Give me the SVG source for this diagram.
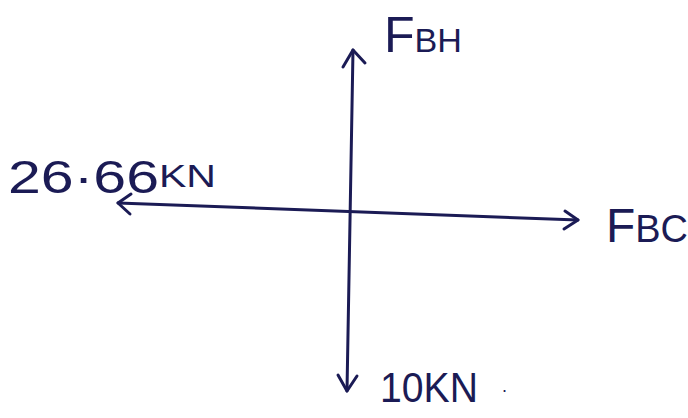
<svg xmlns="http://www.w3.org/2000/svg" width="688" height="418" viewBox="0 0 688 418">
<style>
.ln{stroke:#1b1b55;stroke-width:3;fill:none;stroke-linecap:round;stroke-linejoin:round}
.t{font-family:"Liberation Sans",Arial,sans-serif;fill:#1b1b55}
</style>
<rect width="688" height="418" fill="#ffffff"/>
<g id="connectors">
<path class="ln" d="M353,50 L347,391"/>
<path class="ln" d="M343,67 L353,50 L365,63"/>
<path class="ln" d="M338,375 L347,391 L357,376"/>
<path class="ln" d="M118,203 L578,220"/>
<path class="ln" d="M131,194 L118,203 L130,214"/>
<path class="ln" d="M565,211 L578,220 L564,229"/>
</g>
<g id="label-fbh">
<text class="t" x="384" y="52" font-size="50" textLength="78" lengthAdjust="spacingAndGlyphs">F<tspan font-size="34" dy="0">BH</tspan></text>
</g>
<g id="label-left">
<text class="t" x="8" y="193" font-size="46" textLength="208" lengthAdjust="spacingAndGlyphs">26·66<tspan font-size="32" dy="-6">KN</tspan></text>
</g>
<g id="label-fbc">
<text class="t" x="606" y="242" font-size="48" textLength="82" lengthAdjust="spacingAndGlyphs">F<tspan font-size="38">BC</tspan></text>
</g>
<g id="label-bottom">
<text class="t" x="380" y="402" font-size="42" textLength="98" lengthAdjust="spacingAndGlyphs">10KN</text>
<text class="t" x="502" y="392" font-size="18">.</text>
</g>
</svg>
